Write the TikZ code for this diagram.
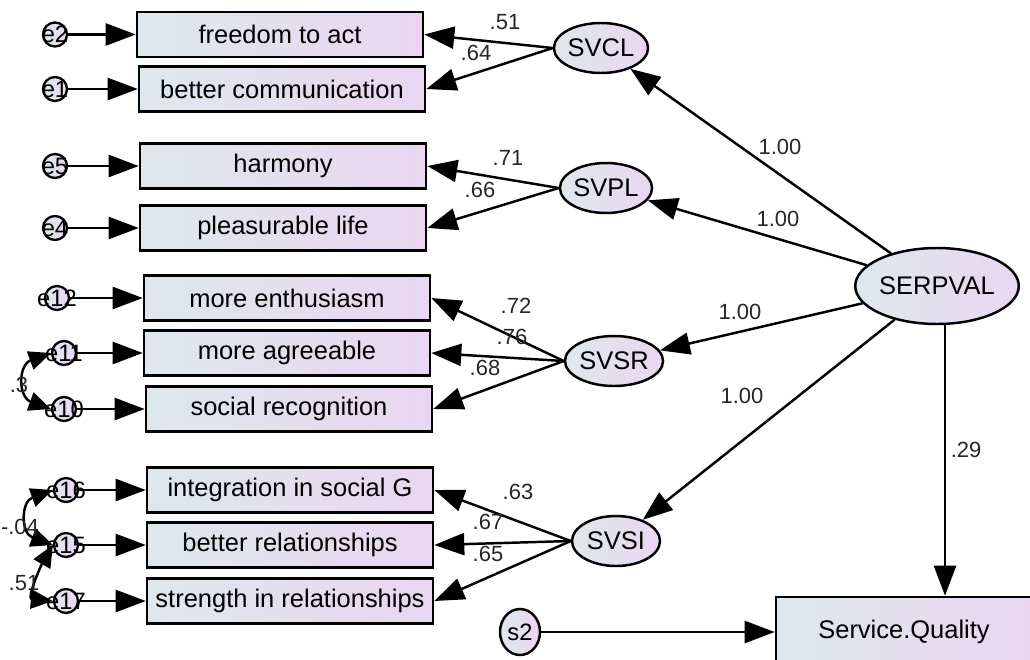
\documentclass[tikz,border=0pt]{standalone}
\usepackage{fontspec}
\setmainfont{Liberation Sans}
\usetikzlibrary{arrows.meta, shapes.geometric}
\definecolor{boxl}{RGB}{222,232,236}
\definecolor{boxr}{RGB}{234,214,241}

\begin{document}
\begin{tikzpicture}[
    x=0.02cm, y=-0.02cm,
    obs/.style={rectangle, draw, line width=1.5pt, left color=boxl, right color=boxr, minimum height=0.9cm, minimum width=5.72cm, font=\fontsize{14.5}{16}\selectfont},
    lat/.style={ellipse, draw, line width=1.4pt, left color=boxl, right color=boxr, minimum height=1cm, minimum width=1.76cm, inner sep=0pt, font=\fontsize{14.5}{16}\selectfont},
    err/.style={circle, draw, line width=1.3pt, left color=boxl, right color=boxr, minimum size=0.48cm, inner sep=0pt},
    elab/.style={font=\fontsize{13.5}{14}\selectfont, inner sep=0pt},
    reg/.style={-{Triangle[length=6mm, width=4.4mm]}, line width=1.4pt},
    cov/.style={{Triangle[length=4.4mm, width=3.8mm]}-{Triangle[length=4.4mm, width=3.8mm]}, line width=1.4pt},
    coef/.style={font=\fontsize{12.5}{14}\selectfont, text=black!85, inner sep=0pt}
]
\useasboundingbox (0,0) rectangle (1030,659);

% observed items
\node[obs] (fta) at (280,34.5) {freedom to act};
\node[obs] (bcom) at (282,89) {better communication};
\node[obs] (harm) at (283,166) {harmony};
\node[obs] (plife) at (283,228) {pleasurable life};
\node[obs] (menth) at (287,298) {more enthusiasm};
\node[obs] (magr) at (287,353) {more agreeable};
\node[obs] (srec) at (289,409) {social recognition};
\node[obs] (isoc) at (290,490) {integration in social G};
\node[obs] (brel) at (290,545) {better relationships};
\node[obs] (srel) at (290,601) {strength in relationships};
\node[obs, minimum width=5.12cm, minimum height=1.4cm] (SQ) at (904,632) {Service.Quality};

% latent factors
\node[lat] (SVCL) at (601,48) {SVCL};
\node[lat] (SVPL) at (606,188) {SVPL};
\node[lat] (SVSR) at (614,361) {SVSR};
\node[lat] (SVSI) at (616,541) {SVSI};
\node[lat, minimum width=2.98cm, minimum height=1.52cm] (SERPVAL) at (937,286) {SERPVAL};
\node[lat, minimum width=0.8cm, minimum height=0.92cm, font=\fontsize{13.5}{14}\selectfont] (s2) at (520,632) {s2};

% error terms
\node[err, label={[elab]center:e2}] (e2) at (55,34.5) {};
\node[err, label={[elab]center:e1}] (e1) at (55,89) {};
\node[err, label={[elab]center:e5}] (e5) at (55,166) {};
\node[err, label={[elab]center:e4}] (e4) at (55,228) {};
\node[err, label={[elab]center:e12}] (e12) at (57,298) {};
\node[err, label={[elab]center:e11}] (e11) at (64,353) {};
\node[err, label={[elab]center:e10}] (e10) at (64,409) {};
\node[err, label={[elab]center:e16}] (e16) at (66,490) {};
\node[err, label={[elab]center:e15}] (e15) at (66,545) {};
\node[err, label={[elab]center:e17}] (e17) at (66,601) {};

% error paths
\draw[reg] (e2) -- (fta);
\draw[reg] (e1) -- (bcom);
\draw[reg] (e5) -- (harm);
\draw[reg] (e4) -- (plife);
\draw[reg] (e12) -- (menth);
\draw[reg] (e11) -- (magr);
\draw[reg] (e10) -- (srec);
\draw[reg] (e16) -- (isoc);
\draw[reg] (e15) -- (brel);
\draw[reg] (e17) -- (srel);

% loadings
\draw[reg] (SVCL.west) -- (fta.east);
\draw[reg] (SVCL.west) -- (bcom.east);
\draw[reg] (SVPL.west) -- (harm.east);
\draw[reg] (SVPL.west) -- (plife.east);
\draw[reg] (SVSR.west) -- (menth.east);
\draw[reg] (SVSR.west) -- (magr.east);
\draw[reg] (SVSR.west) -- (srec.east);
\draw[reg] (SVSI.west) -- (isoc.east);
\draw[reg] (SVSI.west) -- (brel.east);
\draw[reg] (SVSI.west) -- (srel.east);

\draw[reg] (SERPVAL) -- (SVCL);
\draw[reg] (SERPVAL) -- (SVPL);
\draw[reg] (SERPVAL) -- (SVSR);
\draw[reg] (SERPVAL) -- (SVSI);
\draw[reg] ([xshift=0.16cm]SERPVAL.south) -- ([xshift=0.16cm]SERPVAL.south |- SQ.north);
\draw[reg] (s2) -- (SQ);

% covariances
\draw[cov] (e11.west) to[out=200, in=160, looseness=1.6] (e10.west);
\draw[cov] (e16.west) to[out=200, in=160, looseness=1.6] (e15.west);
\draw[cov] (e15.west) to[out=240, in=175, looseness=1.2] (e17.west);

% estimates
\node[coef] (c1) at (505,22) {.51};
\node[coef] (c2) at (476,53) {.64};
\node[coef] (c3) at (508,158) {.71};
\node[coef] (c4) at (480,190) {.66};
\node[coef] (c5) at (516,306) {.72};
\node[coef] (c6) at (512,337) {.76};
\node[coef] (c7) at (485,368) {.68};
\node[coef] (c8) at (518,492) {.63};
\node[coef] (c9) at (488,522) {.67};
\node[coef] (c10) at (488,554) {.65};
\node[coef] (c11) at (780,147) {1.00};
\node[coef] (c12) at (778,219) {1.00};
\node[coef] (c13) at (740,312) {1.00};
\node[coef] (c14) at (742,396) {1.00};
\node[coef] (c15) at (966,450) {.29};
\node[coef] (c16) at (19,385) {.3};
\node[coef] (c17) at (20,527) {-.04};
\node[coef] (c18) at (24,583) {.51};
\end{tikzpicture}
\end{document}
